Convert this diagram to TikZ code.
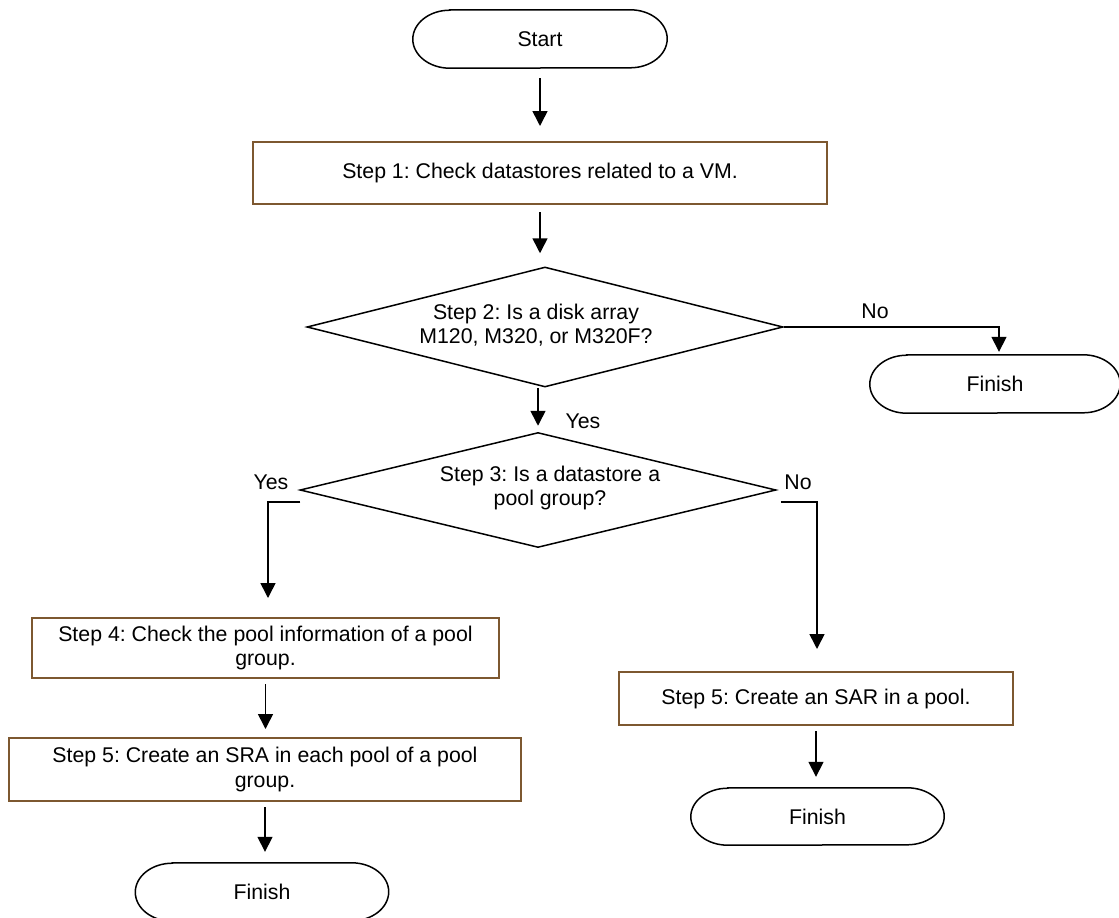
\documentclass[tikz,border=0pt]{standalone}
\usepackage{fontspec}
\setmainfont{Liberation Sans}
\frenchspacing
\usetikzlibrary{shapes.geometric,arrows.meta}
\definecolor{boxbrown}{RGB}{125,88,48}
\newcommand\flowterm[5]{%
  \node[termtext, minimum width=#3pt, minimum height=#4pt] (#1) at (#2) {#5};
  \draw[termline] ([xshift=37pt]#1.north west) -- ([xshift=-37pt]#1.north east)
    arc[start angle=90, end angle=-90, x radius=37pt, y radius=#4pt/2]
    -- ([xshift=37pt]#1.south west)
    arc[start angle=270, end angle=90, x radius=37pt, y radius=#4pt/2] -- cycle;}
\begin{document}
\begin{tikzpicture}[x=1pt,y=-1pt,
  every node/.style={font=\frenchspacing\fontsize{21.3}{24.5}\selectfont, inner sep=0pt},
  termtext/.style={draw=none},
  termline/.style={draw=black, line width=1.5pt},
  stepbox/.style={draw=boxbrown, line width=2pt, align=center},
  decision/.style={diamond, draw=black, line width=1.5pt},
  dtext/.style={align=center},
  lbl/.style={},
  arr/.style={draw=black, line width=1.6pt, -{Triangle[width=15pt,length=15pt]}}]
\useasboundingbox (0,0) rectangle (1119,918);

\flowterm{start}{540,39}{254}{58}{Start}
\node[stepbox, minimum width=574pt, minimum height=62pt] (s1) at (540,173)
  {Step 1: Check datastores related to a VM.};

\node[decision, minimum width=476pt, minimum height=120pt] (d2) at (545,327) {};
\node[dtext] (d2t) at (536,325) {Step 2: Is a disk array\\M120, M320, or M320F?};

\flowterm{fin1}{995,384}{250}{58}{Finish}

\node[decision, minimum width=476pt, minimum height=115pt] (d3) at (538,490) {};
\node[dtext] (d3t) at (550,488) {Step 3: Is a datastore a\\pool group?};

\node[stepbox, minimum width=467pt, minimum height=60pt] (s4) at (265.5,648)
  {Step 4: Check the pool information of a pool\\group.};
\node[stepbox, minimum width=512pt, minimum height=63pt] (s5a) at (265,769.5)
  {Step 5: Create an SRA in each pool of a pool\\group.};
\flowterm{fin2}{262,892}{253}{58}{Finish}

\node[stepbox, minimum width=394pt, minimum height=53pt] (s5b) at (816,698.5)
  {Step 5: Create an SAR in a pool.};
\flowterm{fin3}{817.5,816.5}{253}{57}{Finish}

\node[lbl] (no1) at (875,311) {No};
\node[lbl] (yes1) at (583,421) {Yes};
\node[lbl] (yes2) at (271,482) {Yes};
\node[lbl] (no2) at (798,482) {No};

\draw[arr, shorten <=10pt, shorten >=15pt] (start.south) -- (s1.north);
\draw[arr, shorten <=7pt, shorten >=13pt] (s1.south) -- (s1.south |- d2.north);
\draw[arr, shorten >=3pt] (d2.east) -| ([xshift=4pt]fin1.north);
\draw[arr, shorten >=6pt] (d2.south -| d3.north) -- (d3.north);
\draw[arr, shorten >=19pt] ([shift={(1,12)}]d3.west) -| ([xshift=2.5pt]s4.north);
\draw[arr, shorten >=22pt] ([shift={(4,12)}]d3.east) -| ([xshift=1pt]s5b.north);
\draw[arr, shorten <=5pt, shorten >=8pt] (s4.south) -- (s4.south |- s5a.north);
\draw[arr, shorten <=5pt, shorten >=11pt] (s5a.south) -- (s5a.south |- fin2.north);
\draw[arr, shorten <=5pt, shorten >=11pt] (s5b.south) -- (s5b.south |- fin3.north);
\end{tikzpicture}
\end{document}
